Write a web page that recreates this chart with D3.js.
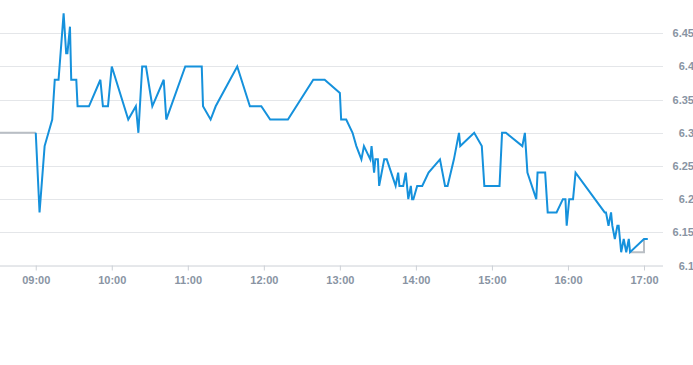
<!DOCTYPE html>
<html>
<head>
<meta charset="utf-8">
<script src="https://cdn.jsdelivr.net/npm/d3@7"></script>
<style>
  body { margin: 0; background: #fff; overflow: hidden; }
  text { font-family: "Liberation Sans", Arial, sans-serif; }
</style>
</head>
<body>
<div id="chart"></div>
<script>
// intraday price, minute resolution
const times = ["09:00","09:03","09:07","09:13","09:15","09:18","09:22","09:24","09:25","09:27","09:28","09:32","09:33","09:42","09:51","09:53","09:57",
  "10:00","10:13","10:19","10:21","10:24","10:27","10:32","10:41","10:43","10:58",
  "11:11","11:12","11:18","11:22","11:39","11:49","11:58",
  "12:05","12:19","12:39","12:48",
  "13:00","13:01","13:05","13:10","13:13","13:17","13:19","13:24","13:25","13:26","13:27","13:28","13:30","13:31","13:35","13:37","13:44","13:46","13:47","13:50","13:52","13:54","13:56","13:57","13:58",
  "14:01","14:05","14:10","14:19","14:23","14:25","14:30","14:32","14:34","14:35","14:46","14:52","14:54",
  "15:06","15:08","15:11","15:24","15:26","15:28","15:35","15:36","15:42","15:44","15:51","15:56","15:58","15:59",
  "16:01","16:04","16:06","16:29","16:30","16:32","16:34","16:35","16:37","16:39","16:40","16:42","16:44","16:46","16:48","16:49",
  "17:00","17:03"];
const prices = [6.30,6.18,6.28,6.32,6.38,6.38,6.48,6.42,6.42,6.46,6.38,6.38,6.34,6.34,6.38,6.34,6.34,
  6.40,6.32,6.34,6.30,6.40,6.40,6.34,6.38,6.32,6.40,
  6.40,6.34,6.32,6.34,6.40,6.34,6.34,
  6.32,6.32,6.38,6.38,
  6.36,6.32,6.32,6.30,6.28,6.26,6.28,6.26,6.28,6.26,6.24,6.26,6.26,6.22,6.26,6.26,6.22,6.24,6.22,6.22,6.24,6.20,6.22,6.20,6.20,
  6.22,6.22,6.24,6.26,6.22,6.22,6.26,6.28,6.30,6.28,6.30,6.28,6.22,
  6.22,6.30,6.30,6.28,6.30,6.24,6.20,6.24,6.24,6.18,6.18,6.20,6.20,6.16,
  6.20,6.20,6.24,6.18,6.18,6.16,6.18,6.16,6.14,6.16,6.16,6.12,6.14,6.12,6.14,6.12,
  6.14,6.14];

// grey reference segments before the open and after the close
const preTimes = ["08:31","09:00"];
const prePrices = [6.30,6.30];
const postTimes = ["16:49","17:00","17:00"];
const postPrices = [6.12,6.12,6.14];

const xTicks = ["09:00","10:00","11:00","12:00","13:00","14:00","15:00","16:00","17:00"];
const yTicks = [6.1,6.15,6.2,6.25,6.3,6.35,6.4,6.45];

const W = 693, H = 365;
const plotRight = 663, plotBottom = 265.5;

const parse = d3.timeParse("%H:%M");
const toPts = (ts, vs) => ts.map((t, i) => ({ t: parse(t), v: vs[i] }));

const svg = d3.select("#chart").append("svg")
  .attr("width", W).attr("height", H);

const x = d3.scaleTime()
  .domain([parse("08:31"), d3.timeMinute.offset(parse("17:15"), 0)])
  .range([-1, plotRight]);
const y = d3.scaleLinear().domain([6.1, 6.45]).range([plotBottom, 33.3]);

// grid
svg.append("g")
  .selectAll("line")
  .data(yTicks.slice(1))
  .enter().append("line")
  .attr("x1", 0).attr("x2", plotRight)
  .attr("y1", d => Math.round(y(d)) + 0.5).attr("y2", d => Math.round(y(d)) + 0.5)
  .attr("stroke", "#e4e6e9").attr("stroke-width", 1);

// y labels on the right
svg.append("g")
  .selectAll("text")
  .data(yTicks)
  .enter().append("text")
  .attr("x", 694)
  .attr("y", d => y(d) + 4)
  .attr("text-anchor", "end")
  .attr("fill", "#8994a3")
  .style("font-size", "11px")
  .style("font-weight", "bold")
  .text(d => d3.format("")(+d.toFixed(2)));

// x axis
const xAxis = d3.axisBottom(x)
  .tickValues(xTicks.map(parse))
  .tickFormat(d3.timeFormat("%H:%M"))
  .tickSize(5)
  .tickPadding(6);

const gx = svg.append("g")
  .attr("transform", `translate(0,${Math.round(plotBottom) - 0.5})`)
  .call(xAxis);
gx.select(".domain").attr("d", `M0,0.5H${plotRight}`).attr("stroke", "#ccd0d6");
gx.selectAll(".tick line").attr("stroke", "#ccd0d6");
gx.selectAll(".tick text")
  .attr("fill", "#8994a3")
  .style("font-size", "11px")
  .style("font-weight", "bold")
  .style("font-family", "Liberation Sans, Arial, sans-serif");

const line = d3.line().x(d => x(d.t)).y(d => y(d.v));

svg.append("path")
  .datum(toPts(preTimes, prePrices))
  .attr("d", line).attr("fill", "none")
  .attr("stroke", "#b9bec4").attr("stroke-width", 2);

svg.append("path")
  .datum(toPts(postTimes, postPrices))
  .attr("d", line).attr("fill", "none")
  .attr("stroke", "#b9bec4").attr("stroke-width", 2);

svg.append("path")
  .datum(toPts(times, prices))
  .attr("d", line).attr("fill", "none")
  .attr("stroke", "#1591dc").attr("stroke-width", 2)
  .attr("stroke-linejoin", "miter");
</script>
</body>
</html>
